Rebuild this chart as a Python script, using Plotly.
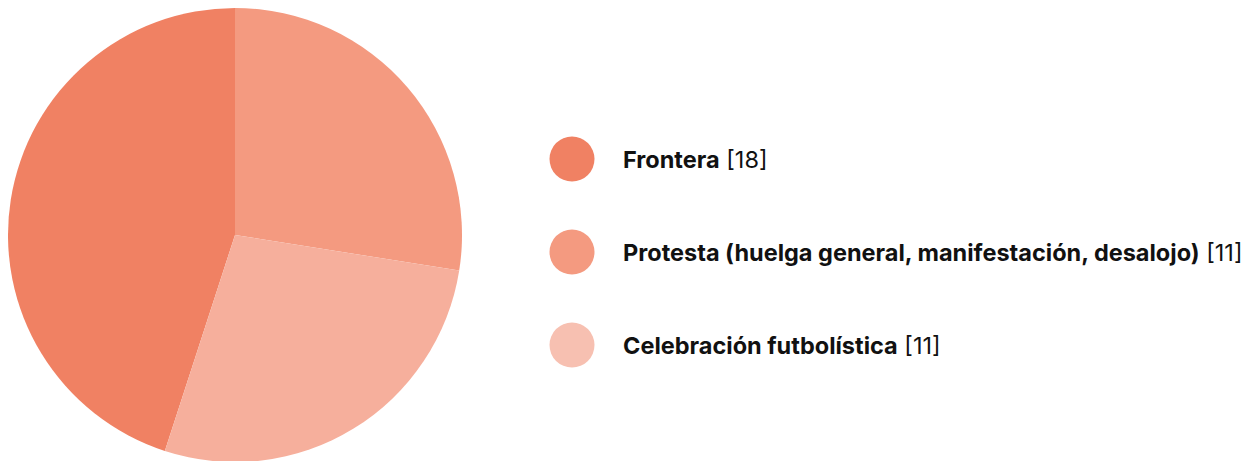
import plotly.graph_objects as go

categories = ["Frontera", "Protesta (huelga general, manifestación, desalojo)", "Celebración futbolística"]
counts = [18, 11, 11]
slice_colors = ["#F08163", "#F49A80", "#F6AF9C"]
legend_colors = ["#F08163", "#F49A80", "#F7C0B1"]

W, H = 1253, 461

fig = go.Figure()

# pie: Frontera starts at ~198° clockwise so Protesta sits at 12 o'clock
fig.add_trace(go.Pie(
    labels=categories,
    values=counts,
    marker=dict(colors=slice_colors, line=dict(width=0)),
    sort=False,
    direction="clockwise",
    rotation=198,
    textinfo="none",
    hoverinfo="label+value",
    domain=dict(x=[0, 454 / W], y=[(H - 454) / H, 1]),
    showlegend=False,
))

# custom legend with round markers
fig.add_trace(go.Scatter(
    x=[0] * len(categories),
    y=list(range(len(categories))),
    mode="markers",
    marker=dict(size=45, color=legend_colors),
    hoverinfo="skip",
    showlegend=False,
    cliponaxis=False,
))

for i, (c, n) in enumerate(zip(categories, counts)):
    fig.add_annotation(
        x=0, y=i, xref="x", yref="y",
        text=f"<b>{c}</b> [{n}]",
        showarrow=False, xanchor="left", yanchor="middle",
        xshift=49,
        font=dict(family="Inter", size=23.5, color="#111111"),
    )

fig.update_layout(
    width=W,
    height=H,
    margin=dict(l=0, r=0, t=0, b=0),
    paper_bgcolor="white",
    plot_bgcolor="rgba(0,0,0,0)",
    xaxis=dict(domain=[500 / W, 1], range=[-64, 689], visible=False, fixedrange=True),
    yaxis=dict(range=[3.333, -1.624], visible=False, fixedrange=True),
)

fig.write_html("out.html")
